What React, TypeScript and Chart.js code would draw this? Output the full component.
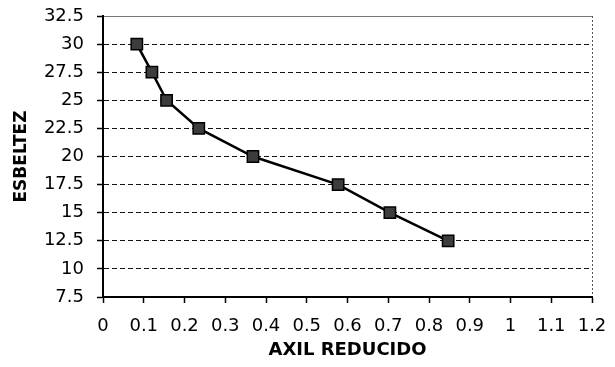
import React, { useEffect, useRef } from "react";
import { Chart, registerables } from "chart.js";

Chart.register(...registerables);

const axilReducido = [0.083, 0.12, 0.156, 0.235, 0.368, 0.577, 0.704, 0.847];
const esbeltez = [30, 27.5, 25, 22.5, 20, 17.5, 15, 12.5];
const xTickLabels = ["0", "0.1", "0.2", "0.3", "0.4", "0.5", "0.6", "0.7", "0.8", "0.9", "1", "1.1", "1.2"];
const yTickLabels = ["7.5", "10", "12.5", "15", "17.5", "20", "22.5", "25", "27.5", "30", "32.5"];
const xTitle = "AXIL REDUCIDO";
const yTitle = "ESBELTEZ";

const FONT = "'DejaVu Sans', 'Liberation Sans', Arial, sans-serif";

export default function App() {
  const ref = useRef<HTMLCanvasElement | null>(null);

  useEffect(() => {
    if (!ref.current) return;
    const data = axilReducido.map((x, i) => ({ x, y: esbeltez[i] }));
    const chart = new Chart(ref.current, {
      type: "line",
      data: {
        datasets: [
          {
            data,
            borderColor: "#000",
            borderWidth: 2.5,
            pointStyle: "rect",
            pointRadius: 8,
            pointBackgroundColor: "#3c3c3c",
            pointBorderColor: "#000",
            pointBorderWidth: 1.5,
            tension: 0,
          },
        ],
      },
      options: {
        animation: false,
        responsive: false,
        layout: { padding: { top: 16, right: 23, left: 0, bottom: 0 } },
        plugins: { legend: { display: false }, tooltip: { enabled: false } },
        scales: {
          x: {
            type: "linear",
            min: 0,
            max: 1.2,
            ticks: {
              stepSize: 0.1,
              color: "#000",
              font: { family: FONT, size: 18 },
              padding: 13,
              maxRotation: 0,
              autoSkip: false,
              callback: (_v: any, i: number) => xTickLabels[i],
            },
            grid: {
              drawOnChartArea: true,
              color: (ctx: any) => (ctx.tick && Math.abs(ctx.tick.value - 1.2) < 1e-6 ? "#555" : "rgba(0,0,0,0)"),
              tickColor: "#000",
              tickLength: 6,
              tickWidth: 1.5,
              tickBorderDash: [],
            },
            border: { display: true, color: "#000", width: 2, dash: [2, 2] },
            title: {
              display: true,
              text: xTitle,
              color: "#000",
              font: { family: FONT, size: 18, weight: "bold" },
              padding: { top: 0, bottom: 6 },
            },
            afterFit: (scale: any) => {
              scale.height = 70;
              scale.paddingLeft = 0;
              scale.paddingRight = 0;
            },
          },
          y: {
            type: "linear",
            min: 7.5,
            max: 32.5,
            ticks: {
              stepSize: 2.5,
              color: "#000",
              font: { family: FONT, size: 18 },
              padding: 13,
              autoSkip: false,
              callback: (_v: any, i: number) => yTickLabels[i],
            },
            grid: {
              color: (ctx: any) => (ctx.tick && ctx.tick.value === 32.5 ? "#777" : "#111"),
              lineWidth: 1,
              tickColor: "#000",
              tickLength: 6,
              tickWidth: 1.5,
              tickBorderDash: [],
            },
            border: {
              display: true,
              color: "#000",
              width: 2,
              dash: (ctx: any) => (ctx.tick && ctx.tick.value === 32.5 ? [] : [5, 3]),
            },
            title: {
              display: true,
              text: yTitle,
              color: "#000",
              font: { family: FONT, size: 17, weight: "bold" },
              padding: { top: 11, bottom: 0 },
            },
            afterFit: (scale: any) => {
              scale.width = 103;
              scale.paddingTop = 0;
              scale.paddingBottom = 0;
            },
          },
        },
      },
    });
    return () => chart.destroy();
  }, []);

  return (
    <div style={{ position: "absolute", left: 0, top: 0, width: 615, height: 367, background: "#fff" }}>
      <canvas ref={ref} width={615} height={367} />
    </div>
  );
}
